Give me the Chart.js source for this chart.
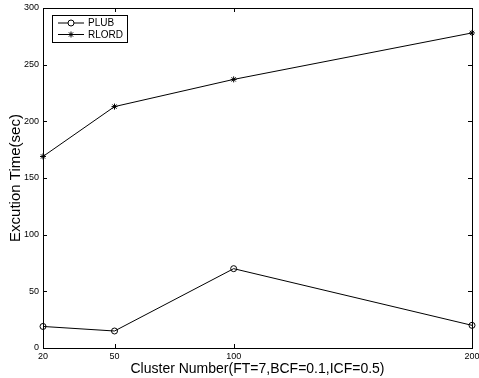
<!DOCTYPE html>
<html>
<head>
<meta charset="utf-8">
<script src="https://cdn.jsdelivr.net/npm/chart.js@4.4.1/dist/chart.umd.min.js"></script>
<style>
  html, body { margin: 0; padding: 0; background: #fff; }
  #wrap { width: 479px; height: 378px; }
</style>
</head>
<body>
<div id="wrap"><canvas id="c" width="479" height="378"></canvas></div>
<script>
// values
const clusters = [20, 50, 100, 200];
const plub = [19, 15, 70, 20];
const rlord = [169, 213, 237, 278];
const xTicks = [20, 50, 100, 200];
const yTicks = [0, 50, 100, 150, 200, 250, 300];

const FONT = 'Liberation Sans, Arial, Helvetica, sans-serif';

// MATLAB-like box with inward ticks on all four sides, plus the boxed legend
const boxPlugin = {
  id: 'box',
  afterDraw(chart) {
    const { ctx, chartArea: a, scales } = chart;
    const len = 4;
    ctx.save();
    ctx.strokeStyle = '#000';
    ctx.lineWidth = 1;
    ctx.strokeRect(Math.round(a.left) + 0.5, Math.round(a.top) + 0.5,
      Math.round(a.right - a.left), Math.round(a.bottom - a.top));
    ctx.beginPath();
    xTicks.forEach(v => {
      const x = Math.round(scales.x.getPixelForValue(v)) + 0.5;
      ctx.moveTo(x, a.bottom); ctx.lineTo(x, a.bottom - len);
      ctx.moveTo(x, a.top); ctx.lineTo(x, a.top + len);
    });
    yTicks.forEach(v => {
      const y = Math.round(scales.y.getPixelForValue(v)) + 0.5;
      ctx.moveTo(a.left, y); ctx.lineTo(a.left + len, y);
      ctx.moveTo(a.right, y); ctx.lineTo(a.right - len, y);
    });
    ctx.stroke();

    // legend
    const lx = 52, ly = 15, lw = 75, lh = 27;
    ctx.fillStyle = '#fff';
    ctx.fillRect(lx, ly, lw, lh);
    ctx.strokeRect(lx + 0.5, ly + 0.5, lw, lh);
    ctx.font = '10px ' + FONT;
    ctx.textBaseline = 'middle';
    chart.data.datasets.forEach((ds, i) => {
      const y = ly + 8 + i * 11.5;
      ctx.beginPath();
      ctx.moveTo(58, y); ctx.lineTo(84, y);
      ctx.stroke();
      Chart.helpers.drawPoint(ctx, {
        pointStyle: ds.pointStyle, radius: ds.pointRadius, rotation: 0, borderWidth: 1
      }, 71, y);
      ctx.fillStyle = '#000';
      ctx.fillText(ds.label, 88, y + 0.5);
    });
    ctx.restore();
  }
};

new Chart(document.getElementById('c'), {
  type: 'line',
  data: {
    datasets: [
      {
        label: 'PLUB',
        data: clusters.map((x, i) => ({ x, y: plub[i] })),
        borderColor: '#000', borderWidth: 1,
        pointStyle: 'circle', pointRadius: 3,
        pointBorderColor: '#000', pointBackgroundColor: 'rgba(0,0,0,0)', pointBorderWidth: 1,
        tension: 0
      },
      {
        label: 'RLORD',
        data: clusters.map((x, i) => ({ x, y: rlord[i] })),
        borderColor: '#000', borderWidth: 1,
        pointStyle: 'star', pointRadius: 3,
        pointBorderColor: '#000', pointBackgroundColor: '#000', pointBorderWidth: 1,
        tension: 0
      }
    ]
  },
  options: {
    responsive: false,
    animation: false,
    clip: false,
    layout: { padding: { left: 0, right: 7, top: 8, bottom: 0 } },
    plugins: { legend: { display: false }, tooltip: { enabled: false } },
    scales: {
      x: {
        type: 'linear', min: 20, max: 200,
        afterBuildTicks: s => { s.ticks = xTicks.map(v => ({ value: v })); },
        afterFit: s => { s.height = 30; s.paddingLeft = 0; s.paddingRight = 0; },
        grid: { display: false, drawTicks: false },
        border: { display: false },
        ticks: { color: '#000', font: { family: FONT, size: 9 }, padding: 3, maxRotation: 0, autoSkip: false },
        title: { display: true, text: 'Cluster Number(FT=7,BCF=0.1,ICF=0.5)', color: '#000',
          font: { family: FONT, size: 14 }, padding: { top: 0, bottom: 0 } }
      },
      y: {
        type: 'linear', min: 0, max: 300,
        afterBuildTicks: s => { s.ticks = yTicks.map(v => ({ value: v })); },
        afterFit: s => { s.width = 43; s.paddingTop = 0; s.paddingBottom = 0; },
        grid: { display: false, drawTicks: false },
        border: { display: false },
        ticks: { color: '#000', font: { family: FONT, size: 9 }, padding: 4 },
        title: { display: true, text: 'Excution Time(sec)', color: '#000',
          font: { family: FONT, size: 15 }, padding: { top: 7, bottom: 0 } }
      }
    }
  },
  plugins: [boxPlugin]
});
</script>
</body>
</html>
